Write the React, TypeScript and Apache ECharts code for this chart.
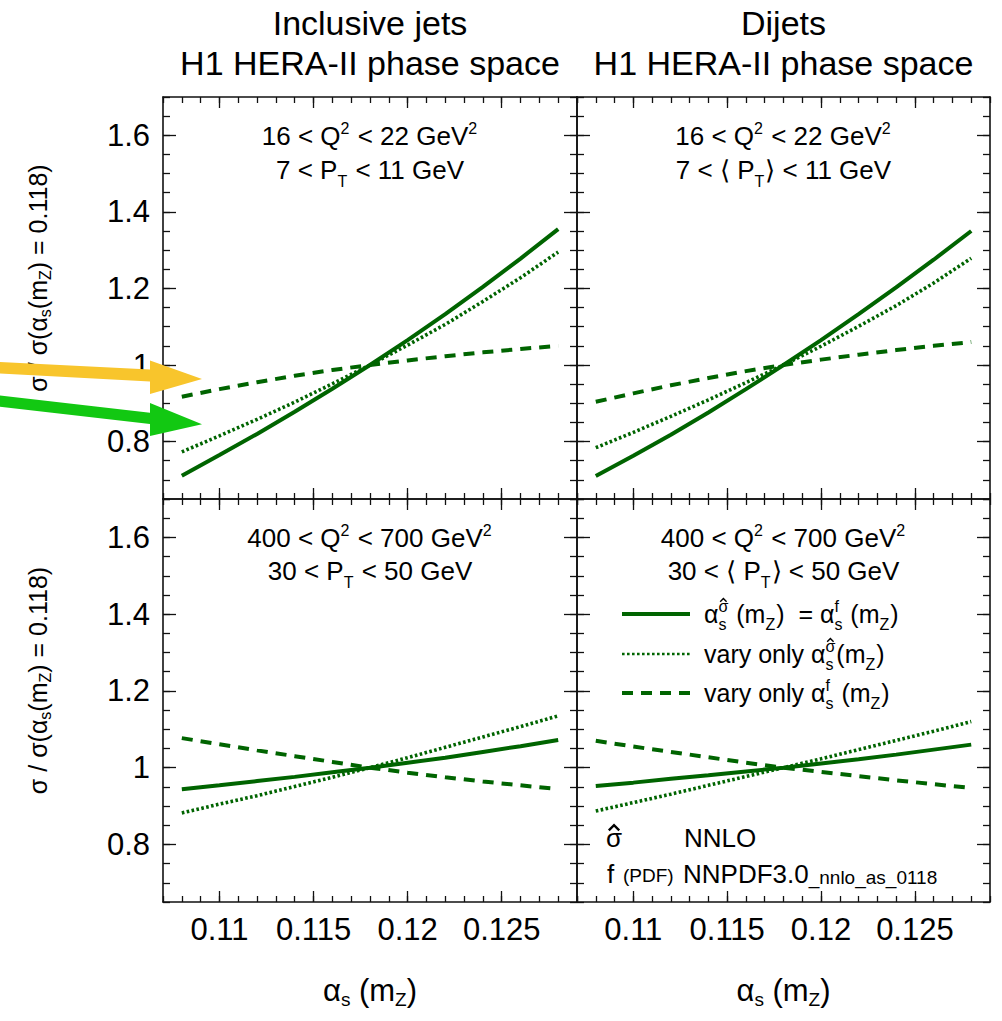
import React, { useEffect, useRef } from 'react';
import * as echarts from 'echarts';

// ---------- data ----------
const alphaS = [0.108, 0.110, 0.112, 0.114, 0.116, 0.118, 0.120, 0.122, 0.124, 0.126, 0.128];

// Inclusive jets, 16<Q2<22, 7<PT<11
const incLowSolid = [0.711, 0.765, 0.820, 0.878, 0.938, 1.0, 1.065, 1.133, 1.204, 1.278, 1.355];
const incLowDotted = [0.773, 0.815, 0.858, 0.903, 0.951, 1.0, 1.052, 1.106, 1.166, 1.228, 1.295];
const incLowDashed = [0.917, 0.937, 0.955, 0.972, 0.987, 1.0, 1.012, 1.023, 1.033, 1.042, 1.050];
// Dijets, 16<Q2<22, 7<<PT><11
const dijLowSolid = [0.710, 0.763, 0.818, 0.876, 0.937, 1.0, 1.065, 1.133, 1.203, 1.275, 1.350];
const dijLowDotted = [0.784, 0.824, 0.866, 0.909, 0.954, 1.0, 1.049, 1.101, 1.155, 1.214, 1.279];
const dijLowDashed = [0.904, 0.926, 0.947, 0.966, 0.984, 1.0, 1.014, 1.027, 1.039, 1.050, 1.060];
// Inclusive jets, 400<Q2<700, 30<PT<50
const incHighSolid = [0.944, 0.954, 0.965, 0.976, 0.988, 1.0, 1.013, 1.026, 1.041, 1.056, 1.072];
const incHighDotted = [0.882, 0.905, 0.927, 0.951, 0.975, 1.0, 1.026, 1.053, 1.080, 1.107, 1.135];
const incHighDashed = [1.077, 1.061, 1.045, 1.030, 1.015, 1.0, 0.987, 0.975, 0.964, 0.954, 0.944];
// Dijets, 400<Q2<700, 30<<PT><50
const dijHighSolid = [0.952, 0.961, 0.971, 0.980, 0.990, 1.0, 1.011, 1.022, 1.034, 1.047, 1.060];
const dijHighDotted = [0.887, 0.909, 0.931, 0.954, 0.977, 1.0, 1.023, 1.047, 1.071, 1.095, 1.120];
const dijHighDashed = [1.070, 1.055, 1.041, 1.027, 1.013, 1.0, 0.989, 0.978, 0.967, 0.957, 0.947];

const xMajorTicks = [0.11, 0.115, 0.12, 0.125];
const yMajorTicks = [0.8, 1, 1.2, 1.4, 1.6];
const X_MIN = 0.107, X_MAX = 0.129, X_MINOR = 0.001;
const Y_MIN = 0.65, Y_MAX = 1.7, Y_MINOR = 0.05;

const columnTitles = ['Inclusive jets\nH1 HERA-II phase space', 'Dijets\nH1 HERA-II phase space'];
const seriesNames = ['αs(σ̂)(mZ) = αs(f)(mZ)', 'vary only αs(σ̂)(mZ)', 'vary only αs(f)(mZ)'];

// ---------- styling / layout ----------
const FONT = '"Liberation Sans", Arial, Helvetica, sans-serif';
const GREEN = '#006400';
const AXIS_COLOR = '#111';

const grids = [
  { left: 163, top: 97, width: 414, height: 402 },
  { left: 577, top: 97, width: 413, height: 402 },
  { left: 163, top: 499, width: 414, height: 403 },
  { left: 577, top: 499, width: 413, height: 403 },
];

let measureCtx: CanvasRenderingContext2D | null = null;
function textWidth(t: string, size: number): number {
  if (!measureCtx) measureCtx = document.createElement('canvas').getContext('2d');
  if (!measureCtx) return t.length * size * 0.55;
  measureCtx.font = `${size}px ${FONT}`;
  return measureCtx.measureText(t).width;
}

type Seg = { t?: string; hat?: boolean; sup?: string; supHat?: boolean; sub?: string; small?: number; dy?: number };
type Item = { t: string; size: number; x: number; b: number; hat?: boolean };

function textRow(x: number, baseline: number, segs: Seg[], size: number, align: 'left' | 'center'): any[] {
  const small = Math.round(size * 0.62);
  const items: Item[] = [];
  let cx = 0;
  for (const s of segs) {
    if (s.sup !== undefined || s.sub !== undefined) {
      let w = 0;
      if (s.sup) {
        items.push({ t: s.sup, size: small, x: cx, b: -size * 0.44, hat: s.supHat });
        w = Math.max(w, textWidth(s.sup, small));
      }
      if (s.sub) { items.push({ t: s.sub, size: small, x: cx, b: size * 0.3 }); w = Math.max(w, textWidth(s.sub, small)); }
      cx += w + 1;
    } else if (s.t) {
      const sz = s.small || size;
      items.push({ t: s.t, size: sz, x: cx, b: s.dy || 0, hat: s.hat });
      cx += textWidth(s.t, sz);
    }
  }
  const x0 = align === 'center' ? x - cx / 2 : x;
  const out: any[] = [];
  items.forEach((it) => {
    out.push({
      type: 'text', silent: true, z: 50,
      x: x0 + it.x,
      y: baseline + it.b - 0.3465 * it.size,
      style: {
        text: it.t, fontSize: it.size, fontFamily: FONT, fill: '#000',
        align: 'left', verticalAlign: 'middle', textAlign: 'left', textVerticalAlign: 'middle',
      },
    });
    if (it.hat) {
      // circumflex accent drawn as a small caret above the glyph
      const w = textWidth(it.t, it.size);
      const hx = x0 + it.x + w / 2;
      const yb = baseline + it.b;
      const bottom = yb - 0.64 * it.size;
      const hw = 0.2 * it.size, hh = 0.2 * it.size;
      out.push({
        type: 'polyline', silent: true, z: 50,
        shape: { points: [[hx - hw, bottom], [hx, bottom - hh], [hx + hw, bottom]] },
        style: { stroke: '#000', fill: null, lineWidth: Math.max(1.3, 0.09 * it.size), lineJoin: 'miter' },
      });
    }
  });
  return out;
}

function fmt(v: number) { return String(+Number(v).toFixed(4)); }

function buildOption() {
  const tickLine = { color: AXIS_COLOR, width: 1.3 };
  const xAxis: any[] = [];
  const yAxis: any[] = [];
  const xNameRich = {
    a: { fontSize: 31, lineHeight: 34, verticalAlign: 'top', fontFamily: FONT, color: '#000' },
    s: { fontSize: 19, lineHeight: 19, padding: [23, 0, 0, 0], verticalAlign: 'bottom', fontFamily: FONT, color: '#000' },
  };
  const yNameRich = {
    a: { fontSize: 25, lineHeight: 28, verticalAlign: 'top', fontFamily: FONT, color: '#000' },
    s: { fontSize: 16, lineHeight: 16, padding: [20, 0, 0, 0], verticalAlign: 'bottom', fontFamily: FONT, color: '#000' },
  };
  grids.forEach((_, g) => {
    const bottomRow = g >= 2;
    const leftCol = g % 2 === 0;
    const cx = { type: 'value', gridIndex: g, min: X_MIN, max: X_MAX, splitLine: { show: false } };
    xAxis.push({
      ...cx, position: 'bottom',
      axisLine: { show: true, onZero: false, lineStyle: { color: AXIS_COLOR, width: 1.6 } },
      axisTick: { show: true, inside: true, length: 11, customValues: xMajorTicks, lineStyle: tickLine },
      axisLabel: {
        show: bottomRow, customValues: xMajorTicks, formatter: fmt, margin: 12,
        fontSize: 31, color: '#000', fontFamily: FONT,
      },
      name: bottomRow ? '{a|α}{s|s}{a| (m}{s|Z}{a|)}' : '',
      nameLocation: 'middle', nameGap: 73,
      nameTextStyle: { fontSize: 31, fontFamily: FONT, color: '#000', rich: xNameRich },
    });
    xAxis.push({
      ...cx, position: 'bottom', interval: X_MINOR,
      axisLine: { show: false, onZero: false },
      axisTick: { show: true, inside: true, length: 6, lineStyle: tickLine },
      axisLabel: { show: false },
    });
    xAxis.push({
      ...cx, position: 'top',
      axisLine: { show: true, onZero: false, lineStyle: { color: AXIS_COLOR, width: 1.6 } },
      axisTick: { show: true, inside: true, length: 11, customValues: xMajorTicks, lineStyle: tickLine },
      axisLabel: { show: false },
    });
    xAxis.push({
      ...cx, position: 'top', interval: X_MINOR,
      axisLine: { show: false, onZero: false },
      axisTick: { show: true, inside: true, length: 6, lineStyle: tickLine },
      axisLabel: { show: false },
    });

    const cy = { type: 'value', gridIndex: g, min: Y_MIN, max: Y_MAX, splitLine: { show: false } };
    yAxis.push({
      ...cy, position: 'left',
      axisLine: { show: true, onZero: false, lineStyle: { color: AXIS_COLOR, width: 1.6 } },
      axisTick: { show: true, inside: true, length: 13, customValues: yMajorTicks, lineStyle: tickLine },
      axisLabel: {
        show: leftCol, customValues: yMajorTicks, formatter: fmt, margin: 13,
        fontSize: 31, color: '#000', fontFamily: FONT,
      },
      name: leftCol ? '{a|σ / σ(α}{s|s}{a|(m}{s|Z}{a|) = 0.118)}' : '',
      nameLocation: 'middle', nameRotate: 90, nameGap: 110,
      nameTextStyle: { fontSize: 25, fontFamily: FONT, color: '#000', rich: yNameRich, padding: [0, 0, 0, 40] },
    });
    yAxis.push({
      ...cy, position: 'left', interval: Y_MINOR,
      axisLine: { show: false, onZero: false },
      axisTick: { show: true, inside: true, length: 7, lineStyle: tickLine },
      axisLabel: { show: false },
    });
    yAxis.push({
      ...cy, position: 'right',
      axisLine: { show: true, onZero: false, lineStyle: { color: AXIS_COLOR, width: 1.6 } },
      axisTick: { show: true, inside: true, length: 13, customValues: yMajorTicks, lineStyle: tickLine },
      axisLabel: { show: false },
    });
    yAxis.push({
      ...cy, position: 'right', interval: Y_MINOR,
      axisLine: { show: false, onZero: false },
      axisTick: { show: true, inside: true, length: 7, lineStyle: tickLine },
      axisLabel: { show: false },
    });
  });

  const panelData = [
    [incLowSolid, incLowDotted, incLowDashed],
    [dijLowSolid, dijLowDotted, dijLowDashed],
    [incHighSolid, incHighDotted, incHighDashed],
    [dijHighSolid, dijHighDotted, dijHighDashed],
  ];
  const styles = [
    { color: GREEN, width: 4, type: 'solid' },
    { color: GREEN, width: 3.6, type: [2.6, 2.4] },
    { color: GREEN, width: 4, type: [11, 8] },
  ];
  const series: any[] = [];
  panelData.forEach((set, g) => {
    set.forEach((vals, k) => {
      series.push({
        type: 'line', name: seriesNames[k],
        xAxisIndex: g * 4, yAxisIndex: g * 4,
        data: alphaS.map((x, i) => [x, vals[i]]),
        symbol: 'none', showSymbol: false, silent: true, z: 5,
        lineStyle: { ...styles[k], cap: 'butt' },
      });
    });
  });

  // ---------- annotations ----------
  const S = 26;
  const graphic: any[] = [];
  const colCenters = [370, 783.5];
  const q2Low: Seg[] = [{ t: '16 < Q' }, { sup: '2' }, { t: ' < 22 GeV' }, { sup: '2' }];
  const q2High: Seg[] = [{ t: '400 < Q' }, { sup: '2' }, { t: ' < 700 GeV' }, { sup: '2' }];
  graphic.push(...textRow(colCenters[0], 145, q2Low, S, 'center'));
  graphic.push(...textRow(colCenters[0], 179, [{ t: '7 < P' }, { sub: 'T' }, { t: ' < 11 GeV' }], S, 'center'));
  graphic.push(...textRow(colCenters[1], 145, q2Low, S, 'center'));
  graphic.push(...textRow(colCenters[1], 179, [{ t: '7 < ⟨ P' }, { sub: 'T' }, { t: '⟩ < 11 GeV' }], S, 'center'));
  graphic.push(...textRow(colCenters[0], 547, q2High, S, 'center'));
  graphic.push(...textRow(colCenters[0], 580, [{ t: '30 < P' }, { sub: 'T' }, { t: ' < 50 GeV' }], S, 'center'));
  graphic.push(...textRow(colCenters[1], 547, q2High, S, 'center'));
  graphic.push(...textRow(colCenters[1], 580, [{ t: '30 < ⟨ P' }, { sub: 'T' }, { t: '⟩ < 50 GeV' }], S, 'center'));

  // legend
  const legY = [614, 654, 693];
  styles.forEach((st, k) => {
    graphic.push({
      type: 'line', silent: true, z: 50,
      shape: { x1: 622, y1: legY[k], x2: 690, y2: legY[k] },
      style: {
        stroke: st.color, lineWidth: k === 1 ? 2.4 : st.width,
        lineDash: Array.isArray(st.type) ? st.type : null, lineCap: 'butt',
      },
    });
  });
  const LS = 25;
  graphic.push(...textRow(704, legY[0] + 9, [
    { t: 'α' }, { sup: 'σ', supHat: true, sub: 's' }, { t: ' (m' }, { sub: 'Z' }, { t: ')  = α' }, { sup: 'f', sub: 's' }, { t: ' (m' }, { sub: 'Z' }, { t: ')' },
  ], LS, 'left'));
  graphic.push(...textRow(704, legY[1] + 9, [
    { t: 'vary only α' }, { sup: 'σ', supHat: true, sub: 's' }, { t: '(m' }, { sub: 'Z' }, { t: ')' },
  ], LS, 'left'));
  graphic.push(...textRow(704, legY[2] + 9, [
    { t: 'vary only α' }, { sup: 'f', sub: 's' }, { t: ' (m' }, { sub: 'Z' }, { t: ')' },
  ], LS, 'left'));

  // calculation info
  graphic.push(...textRow(606, 847, [{ t: 'σ', hat: true }], S, 'left'));
  graphic.push(...textRow(684, 847, [{ t: 'NNLO' }], S, 'left'));
  graphic.push(...textRow(607, 883, [{ t: 'f' }], S, 'left'));
  graphic.push(...textRow(623, 882, [{ t: '(PDF)', small: 19 }], S, 'left'));
  graphic.push(...textRow(683, 883, [{ t: 'NNPDF3.0' }, { t: '_nnlo_as_0118', small: 19, dy: 1 }], S, 'left'));

  // highlight arrows
  graphic.push({
    type: 'polygon', silent: true, z: 100,
    shape: { points: [[0, 362], [150, 369.5], [150, 360.5], [202, 379], [150, 394], [150, 381.5], [0, 373.5]] },
    style: { fill: '#F8C52C' },
  });
  graphic.push({
    type: 'polygon', silent: true, z: 100,
    shape: { points: [[0, 395.5], [150, 412.8], [150, 403], [202, 424.3], [150, 436], [150, 424], [0, 406.7]] },
    style: { fill: '#12C812' },
  });

  return {
    animation: false,
    backgroundColor: '#fff',
    title: columnTitles.map((t, i) => ({
      text: t, left: colCenters[i], top: 3, textAlign: 'center', padding: 0,
      textStyle: { fontSize: 34, fontWeight: 'normal', fontFamily: FONT, color: '#000', lineHeight: 40 },
    })),
    grid: grids.map((g) => ({ ...g, containLabel: false, show: false })),
    xAxis, yAxis, series, graphic,
  };
}

export default function App() {
  const ref = useRef<HTMLDivElement>(null);
  useEffect(() => {
    if (!ref.current) return;
    const chart = echarts.init(ref.current, null, { renderer: 'svg' });
    chart.setOption(buildOption() as any);
    return () => chart.dispose();
  }, []);
  return (
    <div
      ref={ref}
      style={{ position: 'fixed', left: 0, top: 0, width: 1002, height: 1021, background: '#fff' }}
    />
  );
}
